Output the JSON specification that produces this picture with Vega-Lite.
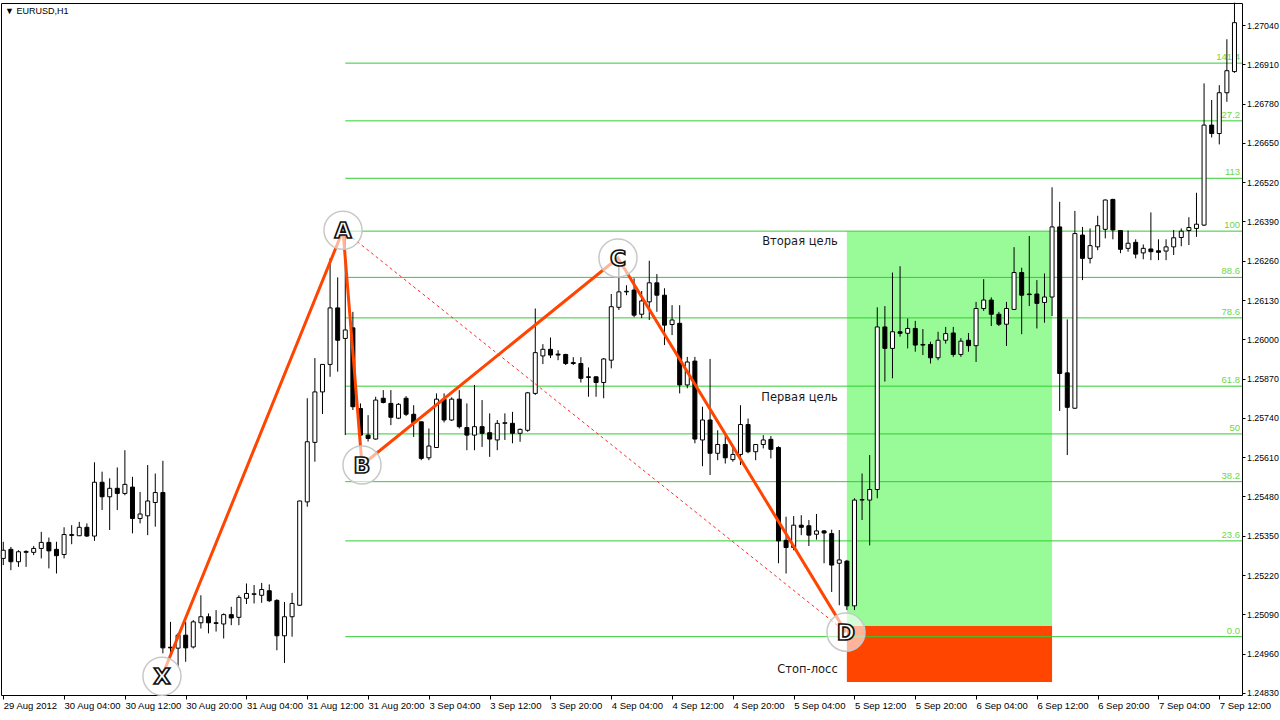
{
  "$schema": "https://vega.github.io/schema/vega-lite/v6.json",
  "width": 1241,
  "height": 692,
  "autosize": "none",
  "padding": {"left": 1, "top": 3, "right": 38, "bottom": 25},
  "background": "white",
  "title": {"text": "▼ EURUSD,H1", "anchor": "start", "frame": "group", "orient": "top", "offset": -14, "dx": 4, "fontSize": 9, "fontWeight": "normal", "font": "Liberation Sans", "color": "black"},
  "config": {
    "view": {"stroke": "black", "strokeWidth": 1},
    "axis": {"grid": false, "domain": false, "tickColor": "black", "labelColor": "black", "labelFont": "Liberation Sans", "labelFontSize": 9.5}
  },
  "datasets": {
    "candles": [
      {"i":0,"o":1.25275,"h":1.25330,"l":1.25253,"c":1.25302},
      {"i":1,"o":1.25305,"h":1.25313,"l":1.25236,"c":1.25264},
      {"i":2,"o":1.25264,"h":1.25302,"l":1.25247,"c":1.25297},
      {"i":3,"o":1.25295,"h":1.25302,"l":1.25247,"c":1.25298},
      {"i":4,"o":1.25295,"h":1.25316,"l":1.25286,"c":1.25308},
      {"i":5,"o":1.25308,"h":1.25363,"l":1.25275,"c":1.25328},
      {"i":6,"o":1.25328,"h":1.25344,"l":1.25242,"c":1.25300},
      {"i":7,"o":1.25305,"h":1.25330,"l":1.25225,"c":1.25284},
      {"i":8,"o":1.25288,"h":1.25378,"l":1.25275,"c":1.25354},
      {"i":9,"o":1.25351,"h":1.25385,"l":1.25322,"c":1.25354},
      {"i":10,"o":1.25350,"h":1.25396,"l":1.25349,"c":1.25378},
      {"i":11,"o":1.25378,"h":1.25391,"l":1.25346,"c":1.25349},
      {"i":12,"o":1.25349,"h":1.25593,"l":1.25333,"c":1.25527},
      {"i":13,"o":1.25527,"h":1.25562,"l":1.25435,"c":1.25479},
      {"i":14,"o":1.25479,"h":1.25540,"l":1.25369,"c":1.25507},
      {"i":15,"o":1.25507,"h":1.25576,"l":1.25435,"c":1.25490},
      {"i":16,"o":1.25490,"h":1.25633,"l":1.25484,"c":1.25520},
      {"i":17,"o":1.25511,"h":1.25545,"l":1.25358,"c":1.25407},
      {"i":18,"o":1.25407,"h":1.25495,"l":1.25391,"c":1.25422},
      {"i":19,"o":1.25416,"h":1.25584,"l":1.25352,"c":1.25465},
      {"i":20,"o":1.25460,"h":1.25556,"l":1.25380,"c":1.25493},
      {"i":21,"o":1.25493,"h":1.25598,"l":1.24961,"c":1.24979},
      {"i":22,"o":1.24981,"h":1.25065,"l":1.24961,"c":1.24979},
      {"i":23,"o":1.24978,"h":1.25028,"l":1.24916,"c":1.25021},
      {"i":24,"o":1.25021,"h":1.25065,"l":1.24933,"c":1.24979},
      {"i":25,"o":1.24982,"h":1.25071,"l":1.24977,"c":1.25065},
      {"i":26,"o":1.25062,"h":1.25153,"l":1.25043,"c":1.25082},
      {"i":27,"o":1.25082,"h":1.25093,"l":1.25027,"c":1.25062},
      {"i":28,"o":1.25062,"h":1.25104,"l":1.25033,"c":1.25060},
      {"i":29,"o":1.25058,"h":1.25093,"l":1.25010,"c":1.25089},
      {"i":30,"o":1.25089,"h":1.25115,"l":1.25054,"c":1.25078},
      {"i":31,"o":1.25080,"h":1.25153,"l":1.25054,"c":1.25146},
      {"i":32,"o":1.25143,"h":1.25192,"l":1.25124,"c":1.25159},
      {"i":33,"o":1.25156,"h":1.25187,"l":1.25126,"c":1.25158},
      {"i":34,"o":1.25153,"h":1.25194,"l":1.25128,"c":1.25172},
      {"i":35,"o":1.25168,"h":1.25189,"l":1.25131,"c":1.25135},
      {"i":36,"o":1.25136,"h":1.25140,"l":1.24971,"c":1.25019},
      {"i":37,"o":1.25019,"h":1.25131,"l":1.24929,"c":1.25082},
      {"i":38,"o":1.25082,"h":1.25161,"l":1.25016,"c":1.25126},
      {"i":39,"o":1.25120,"h":1.25466,"l":1.25118,"c":1.25465},
      {"i":40,"o":1.25462,"h":1.25805,"l":1.25446,"c":1.25661},
      {"i":41,"o":1.25659,"h":1.25938,"l":1.25595,"c":1.25826},
      {"i":42,"o":1.25826,"h":1.25918,"l":1.25753,"c":1.25917},
      {"i":43,"o":1.25917,"h":1.26268,"l":1.25876,"c":1.26104},
      {"i":44,"o":1.26104,"h":1.26205,"l":1.25893,"c":1.25997},
      {"i":45,"o":1.26003,"h":1.26342,"l":1.25683,"c":1.26031},
      {"i":46,"o":1.26038,"h":1.26091,"l":1.25766,"c":1.25777},
      {"i":47,"o":1.25771,"h":1.25788,"l":1.25656,"c":1.25683},
      {"i":48,"o":1.25683,"h":1.25749,"l":1.25662,"c":1.25672},
      {"i":49,"o":1.25670,"h":1.25810,"l":1.25668,"c":1.25799},
      {"i":50,"o":1.25805,"h":1.25832,"l":1.25788,"c":1.25791},
      {"i":51,"o":1.25788,"h":1.25832,"l":1.25716,"c":1.25742},
      {"i":52,"o":1.25739,"h":1.25789,"l":1.25736,"c":1.25785},
      {"i":53,"o":1.25805,"h":1.25812,"l":1.25746,"c":1.25752},
      {"i":54,"o":1.25752,"h":1.25782,"l":1.25677,"c":1.25724},
      {"i":55,"o":1.25727,"h":1.25728,"l":1.25600,"c":1.25606},
      {"i":56,"o":1.25608,"h":1.25705,"l":1.25600,"c":1.25647},
      {"i":57,"o":1.25642,"h":1.25821,"l":1.25641,"c":1.25802},
      {"i":58,"o":1.25802,"h":1.25821,"l":1.25725,"c":1.25733},
      {"i":59,"o":1.25733,"h":1.25808,"l":1.25730,"c":1.25802},
      {"i":60,"o":1.25802,"h":1.25832,"l":1.25705,"c":1.25711},
      {"i":61,"o":1.25708,"h":1.25788,"l":1.25633,"c":1.25683},
      {"i":62,"o":1.25683,"h":1.25849,"l":1.25633,"c":1.25711},
      {"i":63,"o":1.25711,"h":1.25799,"l":1.25644,"c":1.25689},
      {"i":64,"o":1.25691,"h":1.25755,"l":1.25611,"c":1.25670},
      {"i":65,"o":1.25667,"h":1.25733,"l":1.25633,"c":1.25722},
      {"i":66,"o":1.25722,"h":1.25755,"l":1.25667,"c":1.25724},
      {"i":67,"o":1.25722,"h":1.25760,"l":1.25656,"c":1.25689},
      {"i":68,"o":1.25689,"h":1.25705,"l":1.25661,"c":1.25702},
      {"i":69,"o":1.25699,"h":1.25826,"l":1.25694,"c":1.25823},
      {"i":70,"o":1.25821,"h":1.26102,"l":1.25816,"c":1.25956},
      {"i":71,"o":1.25945,"h":1.25984,"l":1.25918,"c":1.25967},
      {"i":72,"o":1.25967,"h":1.26006,"l":1.25938,"c":1.25948},
      {"i":73,"o":1.25951,"h":1.25964,"l":1.25931,"c":1.25948},
      {"i":74,"o":1.25950,"h":1.25952,"l":1.25915,"c":1.25920},
      {"i":75,"o":1.25923,"h":1.25941,"l":1.25915,"c":1.25920},
      {"i":76,"o":1.25920,"h":1.25941,"l":1.25857,"c":1.25871},
      {"i":77,"o":1.25876,"h":1.25907,"l":1.25810,"c":1.25874},
      {"i":78,"o":1.25876,"h":1.25877,"l":1.25810,"c":1.25857},
      {"i":79,"o":1.25857,"h":1.25938,"l":1.25805,"c":1.25935},
      {"i":80,"o":1.25931,"h":1.26150,"l":1.25904,"c":1.26108},
      {"i":81,"o":1.26106,"h":1.26240,"l":1.26097,"c":1.26157},
      {"i":82,"o":1.26157,"h":1.26179,"l":1.26146,"c":1.26159},
      {"i":83,"o":1.26163,"h":1.26202,"l":1.26073,"c":1.26080},
      {"i":84,"o":1.26083,"h":1.26160,"l":1.26070,"c":1.26127},
      {"i":85,"o":1.26124,"h":1.26260,"l":1.26064,"c":1.26187},
      {"i":86,"o":1.26187,"h":1.26216,"l":1.26091,"c":1.26146},
      {"i":87,"o":1.26146,"h":1.26169,"l":1.25981,"c":1.26047},
      {"i":88,"o":1.26049,"h":1.26113,"l":1.26014,"c":1.26064},
      {"i":89,"o":1.26053,"h":1.26113,"l":1.25821,"c":1.25849},
      {"i":90,"o":1.25849,"h":1.25942,"l":1.25838,"c":1.25925},
      {"i":91,"o":1.25928,"h":1.25942,"l":1.25656,"c":1.25670},
      {"i":92,"o":1.25667,"h":1.25777,"l":1.25580,"c":1.25733},
      {"i":93,"o":1.25733,"h":1.25935,"l":1.25551,"c":1.25623},
      {"i":94,"o":1.25623,"h":1.25699,"l":1.25600,"c":1.25652},
      {"i":95,"o":1.25652,"h":1.25689,"l":1.25589,"c":1.25608},
      {"i":96,"o":1.25602,"h":1.25640,"l":1.25595,"c":1.25619},
      {"i":97,"o":1.25619,"h":1.25782,"l":1.25584,"c":1.25718},
      {"i":98,"o":1.25718,"h":1.25738,"l":1.25623,"c":1.25628},
      {"i":99,"o":1.25628,"h":1.25653,"l":1.25600,"c":1.25652},
      {"i":100,"o":1.25652,"h":1.25683,"l":1.25639,"c":1.25667},
      {"i":101,"o":1.25669,"h":1.25680,"l":1.25606,"c":1.25636},
      {"i":102,"o":1.25642,"h":1.25646,"l":1.25259,"c":1.25333},
      {"i":103,"o":1.25335,"h":1.25413,"l":1.25225,"c":1.25311},
      {"i":104,"o":1.25311,"h":1.25415,"l":1.25302,"c":1.25385},
      {"i":105,"o":1.25385,"h":1.25418,"l":1.25352,"c":1.25378},
      {"i":106,"o":1.25383,"h":1.25402,"l":1.25316,"c":1.25352},
      {"i":107,"o":1.25355,"h":1.25422,"l":1.25337,"c":1.25366},
      {"i":108,"o":1.25366,"h":1.25369,"l":1.25259,"c":1.25359},
      {"i":109,"o":1.25357,"h":1.25370,"l":1.25164,"c":1.25253},
      {"i":110,"o":1.25259,"h":1.25369,"l":1.25120,"c":1.25270},
      {"i":111,"o":1.25266,"h":1.25270,"l":1.25104,"c":1.25118},
      {"i":112,"o":1.25118,"h":1.25474,"l":1.25104,"c":1.25468},
      {"i":113,"o":1.25468,"h":1.25556,"l":1.25402,"c":1.25470},
      {"i":114,"o":1.25468,"h":1.25617,"l":1.25318,"c":1.25503},
      {"i":115,"o":1.25503,"h":1.26106,"l":1.25474,"c":1.26041},
      {"i":116,"o":1.26041,"h":1.26110,"l":1.25860,"c":1.25970},
      {"i":117,"o":1.25970,"h":1.26221,"l":1.25871,"c":1.26025},
      {"i":118,"o":1.26025,"h":1.26242,"l":1.26009,"c":1.26020},
      {"i":119,"o":1.26020,"h":1.26069,"l":1.25970,"c":1.26036},
      {"i":120,"o":1.26036,"h":1.26061,"l":1.25959,"c":1.25981},
      {"i":121,"o":1.25983,"h":1.26034,"l":1.25948,"c":1.25981},
      {"i":122,"o":1.25983,"h":1.25992,"l":1.25920,"c":1.25939},
      {"i":123,"o":1.25939,"h":1.26025,"l":1.25931,"c":1.25997},
      {"i":124,"o":1.25997,"h":1.26041,"l":1.25986,"c":1.26019},
      {"i":125,"o":1.26021,"h":1.26041,"l":1.25942,"c":1.25950},
      {"i":126,"o":1.25950,"h":1.26004,"l":1.25942,"c":1.25994},
      {"i":127,"o":1.25997,"h":1.26021,"l":1.25959,"c":1.25979},
      {"i":128,"o":1.25979,"h":1.26124,"l":1.25925,"c":1.26102},
      {"i":129,"o":1.26102,"h":1.26199,"l":1.26094,"c":1.26130},
      {"i":130,"o":1.26130,"h":1.26139,"l":1.26044,"c":1.26083},
      {"i":131,"o":1.26083,"h":1.26091,"l":1.26044,"c":1.26050},
      {"i":132,"o":1.26050,"h":1.26124,"l":1.25978,"c":1.26102},
      {"i":133,"o":1.26099,"h":1.26305,"l":1.26097,"c":1.26221},
      {"i":134,"o":1.26221,"h":1.26237,"l":1.26017,"c":1.26146},
      {"i":135,"o":1.26150,"h":1.26342,"l":1.26110,"c":1.26148},
      {"i":136,"o":1.26150,"h":1.26196,"l":1.26036,"c":1.26119},
      {"i":137,"o":1.26122,"h":1.26218,"l":1.26055,"c":1.26140},
      {"i":138,"o":1.26140,"h":1.26503,"l":1.26077,"c":1.26372},
      {"i":139,"o":1.26372,"h":1.26455,"l":1.25763,"c":1.25887},
      {"i":140,"o":1.25889,"h":1.26066,"l":1.25617,"c":1.25775},
      {"i":141,"o":1.25772,"h":1.26425,"l":1.25770,"c":1.26350},
      {"i":142,"o":1.26345,"h":1.26372,"l":1.26196,"c":1.26268},
      {"i":143,"o":1.26268,"h":1.26367,"l":1.26251,"c":1.26310},
      {"i":144,"o":1.26306,"h":1.26409,"l":1.26295,"c":1.26376},
      {"i":145,"o":1.26364,"h":1.26463,"l":1.26334,"c":1.26461},
      {"i":146,"o":1.26463,"h":1.26465,"l":1.26331,"c":1.26362},
      {"i":147,"o":1.26360,"h":1.26362,"l":1.26285,"c":1.26298},
      {"i":148,"o":1.26301,"h":1.26360,"l":1.26290,"c":1.26318},
      {"i":149,"o":1.26321,"h":1.26331,"l":1.26268,"c":1.26282},
      {"i":150,"o":1.26286,"h":1.26314,"l":1.26265,"c":1.26301},
      {"i":151,"o":1.26299,"h":1.26420,"l":1.26262,"c":1.26290},
      {"i":152,"o":1.26293,"h":1.26331,"l":1.26262,"c":1.26288},
      {"i":153,"o":1.26292,"h":1.26331,"l":1.26262,"c":1.26306},
      {"i":154,"o":1.26306,"h":1.26362,"l":1.26279,"c":1.26336},
      {"i":155,"o":1.26337,"h":1.26367,"l":1.26308,"c":1.26358},
      {"i":156,"o":1.26360,"h":1.26404,"l":1.26312,"c":1.26370},
      {"i":157,"o":1.26367,"h":1.26485,"l":1.26339,"c":1.26381},
      {"i":158,"o":1.26378,"h":1.26847,"l":1.26375,"c":1.26709},
      {"i":159,"o":1.26709,"h":1.26792,"l":1.26668,"c":1.26681},
      {"i":160,"o":1.26681,"h":1.26841,"l":1.26645,"c":1.26816},
      {"i":161,"o":1.26816,"h":1.26993,"l":1.26786,"c":1.26889},
      {"i":162,"o":1.26886,"h":1.27114,"l":1.26882,"c":1.27048}
    ],
    "fib": [
      {"lvl":"0.0","p":1.25016,"s":45,"e":163},
      {"lvl":"23.6","p":1.25333,"s":45,"e":163},
      {"lvl":"38.2","p":1.25529,"s":45,"e":163},
      {"lvl":"50","p":1.25687,"s":45,"e":163},
      {"lvl":"61.8","p":1.25845,"s":45,"e":163},
      {"lvl":"78.6","p":1.26071,"s":45,"e":163},
      {"lvl":"88.6","p":1.26205,"s":45,"e":163},
      {"lvl":"100","p":1.26358,"s":45,"e":163},
      {"lvl":"113","p":1.26533,"s":45,"e":163},
      {"lvl":"127.2","p":1.26723,"s":45,"e":163},
      {"lvl":"141.4","p":1.26914,"s":45,"e":163}
    ],
    "zones": [
      {"kind":"target","x1":111,"x2":138,"y1":1.25051,"y2":1.26358},
      {"kind":"stop","x1":111,"x2":138,"y1":1.24866,"y2":1.25051}
    ],
    "pts": [
      {"name":"X","seq":1,"i":20.88,"p":1.24885},
      {"name":"A","seq":2,"i":44.70,"p":1.26361},
      {"name":"B","seq":3,"i":47.20,"p":1.25584},
      {"name":"C","seq":4,"i":80.88,"p":1.26269},
      {"name":"D","seq":5,"i":110.88,"p":1.25031}
    ],
    "notes": [
      {"t":"Вторая цель","i":109.8,"p":1.26322},
      {"t":"Первая цель","i":109.8,"p":1.25805},
      {"t":"Стоп-лосс","i":109.8,"p":1.24905}
    ]
  },
  "layer": [
    {
      "data": {"name": "zones"},
      "mark": {"type": "rect"},
      "encoding": {
        "x": {"field": "x1", "type": "quantitative", "scale": {"domain": [-0.3, 162.99], "nice": false, "zero": false, "padding": 0},
          "axis": {"title": null, "orient": "bottom", "values": [0,8,16,24,32,40,48,56,64,72,80,88,96,104,112,120,128,136,144,152,160],
            "labelExpr": "['29 Aug 2012','30 Aug 04:00','30 Aug 12:00','30 Aug 20:00','31 Aug 04:00','31 Aug 12:00','31 Aug 20:00','3 Sep 04:00','3 Sep 12:00','3 Sep 20:00','4 Sep 04:00','4 Sep 12:00','4 Sep 20:00','5 Sep 04:00','5 Sep 12:00','5 Sep 20:00','6 Sep 04:00','6 Sep 12:00','6 Sep 20:00','7 Sep 04:00','7 Sep 12:00'][round(datum.value/8)]",
            "tickSize": 4, "labelPadding": 1, "labelAlign": "left", "labelFlush": false, "labelOverlap": false, "labelBound": false}},
        "x2": {"field": "x2"},
        "y": {"field": "y1", "type": "quantitative", "scale": {"domain": [1.24823, 1.27113], "nice": false, "zero": false, "padding": 0},
          "axis": {"title": null, "orient": "right", "values": [1.2483,1.2496,1.2509,1.2522,1.2535,1.2548,1.2561,1.2574,1.2587,1.26,1.2613,1.2626,1.2639,1.2652,1.2665,1.2678,1.2691,1.2704],
            "format": ".5f", "tickSize": 3, "labelPadding": 1.5, "labelFontSize": 8.8, "labelOverlap": false, "labelFlush": false, "labelBound": false}},
        "y2": {"field": "y2"},
        "color": {"field": "kind", "type": "nominal", "scale": {"domain": ["target", "stop"], "range": ["#98fb98", "#ff4500"]}, "legend": null}
      }
    },
    {
      "data": {"name": "fib"},
      "mark": {"type": "rule", "color": "#32cd32", "strokeWidth": 1},
      "encoding": {
        "x": {"field": "s", "type": "quantitative"},
        "x2": {"field": "e"},
        "y": {"field": "p", "type": "quantitative"}
      }
    },
    {
      "data": {"name": "fib"},
      "mark": {"type": "text", "align": "right", "baseline": "bottom", "dx": -2, "dy": -1, "fontSize": 9.5, "font": "Liberation Sans", "color": "#6fd646"},
      "encoding": {
        "x": {"field": "e", "type": "quantitative"},
        "y": {"field": "p", "type": "quantitative"},
        "text": {"field": "lvl"}
      }
    },
    {
      "data": {"name": "candles"},
      "mark": {"type": "rule", "color": "black", "strokeWidth": 1},
      "encoding": {
        "x": {"field": "i", "type": "quantitative"},
        "y": {"field": "l", "type": "quantitative"},
        "y2": {"field": "h"}
      }
    },
    {
      "data": {"name": "candles"},
      "mark": {"type": "bar", "size": 4, "stroke": "black", "strokeWidth": 1},
      "encoding": {
        "x": {"field": "i", "type": "quantitative"},
        "y": {"field": "o", "type": "quantitative"},
        "y2": {"field": "c"},
        "fill": {"condition": {"test": "datum.c >= datum.o", "value": "white"}, "value": "black"}
      }
    },
    {
      "data": {"name": "pts"},
      "transform": [{"filter": "datum.name == 'A' || datum.name == 'D'"}],
      "mark": {"type": "line", "color": "#ff2a2a", "strokeWidth": 1, "strokeDash": [3, 3]},
      "encoding": {
        "x": {"field": "i", "type": "quantitative"},
        "y": {"field": "p", "type": "quantitative"},
        "order": {"field": "seq"}
      }
    },
    {
      "data": {"name": "pts"},
      "mark": {"type": "line", "color": "#ff4500", "strokeWidth": 3},
      "encoding": {
        "x": {"field": "i", "type": "quantitative"},
        "y": {"field": "p", "type": "quantitative"},
        "order": {"field": "seq"}
      }
    },
    {
      "data": {"name": "pts"},
      "mark": {"type": "point", "shape": "circle", "size": 1450, "filled": true, "fill": "white", "fillOpacity": 0.6, "stroke": "#c8c8c8", "strokeWidth": 1.5, "opacity": 1},
      "encoding": {
        "x": {"field": "i", "type": "quantitative"},
        "y": {"field": "p", "type": "quantitative"}
      }
    },
    {
      "data": {"name": "pts"},
      "mark": {"type": "text", "font": "DejaVu Sans", "fontWeight": "bold", "fontSize": 22, "fill": "white", "stroke": "#111111", "strokeWidth": 1.7, "align": "center", "baseline": "middle", "dy": 1},
      "encoding": {
        "x": {"field": "i", "type": "quantitative"},
        "y": {"field": "p", "type": "quantitative"},
        "text": {"field": "name"}
      }
    },
    {
      "data": {"name": "notes"},
      "mark": {"type": "text", "font": "DejaVu Sans", "fontSize": 11.5, "color": "#1a1a1a", "align": "right", "baseline": "middle"},
      "encoding": {
        "x": {"field": "i", "type": "quantitative"},
        "y": {"field": "p", "type": "quantitative"},
        "text": {"field": "t"}
      }
    }
  ]
}
